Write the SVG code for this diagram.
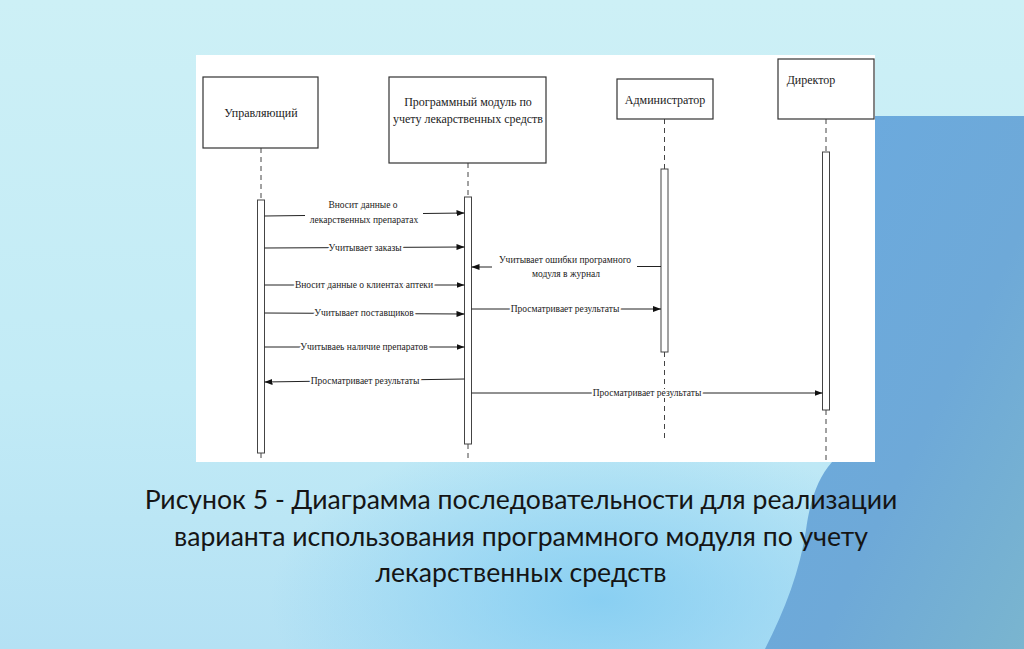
<svg xmlns="http://www.w3.org/2000/svg" width="1024" height="649" viewBox="0 0 1024 649">
<defs>
<linearGradient id="bg" x1="0" y1="0" x2="0" y2="1">
<stop offset="0" stop-color="#cdf0f6"/>
<stop offset="0.6" stop-color="#c2ebf6"/>
<stop offset="1" stop-color="#b4e1f4"/>
</linearGradient>
<radialGradient id="glow" cx="0.5" cy="0.5" r="0.5">
<stop offset="0" stop-color="#84cdf2" stop-opacity="0.9"/>
<stop offset="1" stop-color="#84cdf2" stop-opacity="0"/>
</radialGradient>
<linearGradient id="blue" x1="0" y1="0" x2="1" y2="1">
<stop offset="0" stop-color="#6aaae0"/>
<stop offset="0.6" stop-color="#6ea9d8"/>
<stop offset="1" stop-color="#7ab5cf"/>
</linearGradient>
<marker id="ah" viewBox="0 0 8 6" refX="8" refY="3" markerWidth="8" markerHeight="6" markerUnits="userSpaceOnUse" orient="auto">
<path d="M0,0 L8,3 L0,6 Z" fill="#111"/>
</marker>
<style>
.box{fill:#fff;stroke:#333;stroke-width:1.2}
.act{fill:#fff;stroke:#444;stroke-width:1}
.life{stroke:#444;stroke-width:1;stroke-dasharray:5,4;fill:none}
.msg{stroke:#222;stroke-width:1;fill:none;marker-end:url(#ah)}
.lbl{font-family:"Liberation Serif","Times New Roman",serif;font-size:12px;fill:#222;text-anchor:middle}
.ml{font-family:"Liberation Serif","Times New Roman",serif;font-size:9.5px;fill:#222;text-anchor:middle;stroke:#fff;stroke-width:4;paint-order:stroke;stroke-linejoin:round}
.cap{font-family:Lato,"Open Sans",sans-serif;font-size:26.6px;fill:#151515;text-anchor:middle}
</style>
</defs>
<rect width="1024" height="649" fill="url(#bg)"/>
<ellipse cx="600" cy="600" rx="330" ry="170" fill="url(#glow)"/>
<path d="M875,116 H1024 V649 H765 C785,610 800,570 806,530 C810,500 818,478 832,462 L875,462 Z" fill="url(#blue)"/>
<rect x="196" y="55" width="679" height="407" fill="#fff"/>

<g id="connectors">
<line class="life" x1="261" y1="148" x2="261" y2="200"/>
<line class="life" x1="261" y1="453" x2="261" y2="462"/>
<line class="life" x1="468" y1="163" x2="468" y2="197"/>
<line class="life" x1="468" y1="444" x2="468" y2="462"/>
<line class="life" x1="664.5" y1="119" x2="664.5" y2="169"/>
<line class="life" x1="664.5" y1="352" x2="664.5" y2="440"/>
<line class="life" x1="826" y1="119" x2="826" y2="152"/>
<line class="life" x1="826" y1="410" x2="826" y2="462"/>
</g>

<g id="n-upr">
<rect class="box" x="203" y="77" width="115" height="71"/>
<text class="lbl" x="261" y="117">Управляющий</text>
<rect class="act" x="257.5" y="200" width="7" height="253"/>
</g>
<g id="n-mod">
<rect class="box" x="389" y="77" width="157" height="86"/>
<text class="lbl" x="468" y="106">Программный модуль по</text>
<text class="lbl" x="468" y="123">учету лекарственных средств</text>
<rect class="act" x="464.5" y="197" width="7" height="247"/>
</g>
<g id="n-adm">
<rect class="box" x="617" y="79" width="96" height="40"/>
<text class="lbl" x="665" y="104">Администратор</text>
<rect class="act" x="661" y="169" width="7" height="183"/>
</g>
<g id="n-dir">
<rect class="box" x="778" y="59" width="96" height="60"/>
<text class="lbl" x="811" y="84">Директор</text>
<rect class="act" x="822.5" y="152" width="7" height="258"/>
</g>

<g id="messages">
<path class="msg" d="M264.5,216 L305,215.5 M423,213.5 L464.5,213"/>
<text class="ml" x="363" y="208">Вносит данные о</text>
<text class="ml" x="364" y="223">лекарственных препаратах</text>

<line class="msg" x1="264.5" y1="248" x2="464.5" y2="247"/>
<text class="ml" x="365" y="251">Учитывает заказы</text>

<line class="msg" x1="264.5" y1="285" x2="464.5" y2="285"/>
<text class="ml" x="364" y="288">Вносит данные о клиентах аптеки</text>

<line class="msg" x1="264.5" y1="313" x2="464.5" y2="314"/>
<text class="ml" x="364" y="316">Учитывает поставщиков</text>

<line class="msg" x1="264.5" y1="347" x2="464.5" y2="347"/>
<text class="ml" x="364" y="350">Учитываеь наличие препаратов</text>

<line class="msg" x1="464.5" y1="379" x2="264.5" y2="382"/>
<text class="ml" x="365" y="384">Просматривает результаты</text>

<path class="msg" d="M661,266.5 L637,266.5 M492,267 L471.5,267"/>
<text class="ml" x="565" y="263">Учитывает ошибки програмного</text>
<text class="ml" x="566" y="277">модуля в журнал</text>

<line class="msg" x1="471.5" y1="309" x2="661" y2="309"/>
<text class="ml" x="565" y="312">Просматривает результаты</text>

<line class="msg" x1="471.5" y1="393" x2="822.5" y2="393"/>
<text class="ml" x="647" y="396">Просматривает результаты</text>
</g>

<g id="caption">
<text class="cap" x="521" y="509">Рисунок 5 - Диаграмма последовательности для реализации</text>
<text class="cap" x="521" y="546">варианта использования программного модуля по учету</text>
<text class="cap" x="521" y="582">лекарственных средств</text>
</g>
</svg>
